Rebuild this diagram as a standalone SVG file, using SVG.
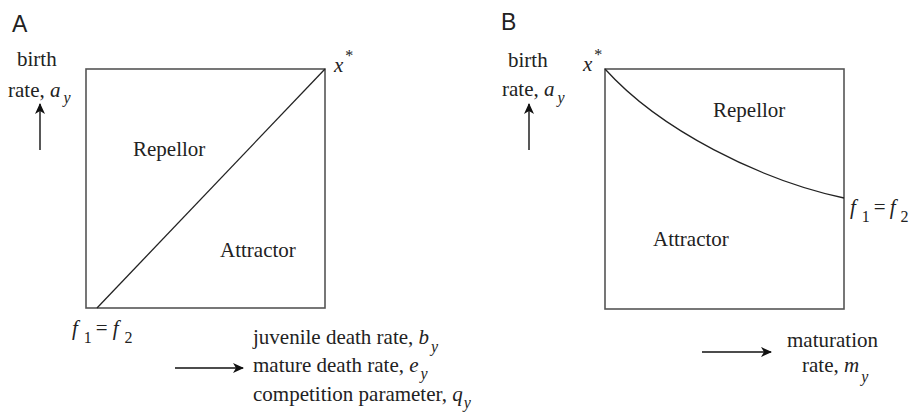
<svg xmlns="http://www.w3.org/2000/svg" width="911" height="417" viewBox="0 0 911 417">
<style>
.box{fill:none;stroke:#555;stroke-width:1.6}
.curve{fill:none;stroke:#222;stroke-width:1.3}
.ar{fill:none;stroke:#111;stroke-width:1.4}
.t{font-family:"Liberation Serif","Times New Roman","DejaVu Serif",serif;font-size:21px;fill:#222}
.i{font-style:italic}
.sb{font-size:16px;font-style:italic}
.sn{font-size:16px;font-style:normal}
.p{font-family:"Liberation Sans",Arial,sans-serif;font-size:23px;fill:#222}
</style>
<defs>
<marker id="ah" markerWidth="12" markerHeight="10" refX="10" refY="5" orient="auto" markerUnits="userSpaceOnUse">
<path d="M0,0 L11,5 L0,10 L3,5 Z" fill="#111"/>
</marker>
</defs>
<g id="panelA">
<text class="p" x="12" y="32">A</text>
<g id="A-box"><rect class="box" x="86" y="69" width="239" height="239"/></g>
<g id="A-ylabel">
<text class="t" x="17" y="66">birth</text>
<text class="t" x="8" y="97">rate, <tspan class="i">a</tspan><tspan class="sb" dx="3" dy="6">y</tspan></text>
</g>
<g id="A-xstar"><text class="t" x="334" y="72"><tspan class="i">x</tspan><tspan class="sn" dx="2" dy="-11">*</tspan></text></g>
<g id="A-repellor"><text class="t" x="133" y="156">Repellor</text></g>
<g id="A-attractor"><text class="t" x="220" y="257">Attractor</text></g>
<g id="A-f1f2"><text class="t" x="72" y="335"><tspan class="i">f</tspan><tspan class="sn" dx="6" dy="8">1</tspan><tspan dx="4" dy="-8">=</tspan><tspan class="i" dx="5">f</tspan><tspan class="sn" dx="6" dy="8">2</tspan></text></g>
<g id="A-xlabel">
<text class="t" x="253" y="344">juvenile death rate, <tspan class="i">b</tspan><tspan class="sb" dx="2" dy="8">y</tspan></text>
<text class="t" x="253" y="372">mature death rate, <tspan class="i">e</tspan><tspan class="sb" dx="2" dy="7">y</tspan></text>
<text class="t" x="253" y="401">competition parameter, <tspan class="i">q</tspan><tspan class="sb" dx="1" dy="7">y</tspan></text>
</g>
</g>
<g id="panelB">
<text class="p" x="501" y="30">B</text>
<g id="B-box"><rect class="box" x="605" y="69" width="239" height="240"/></g>
<g id="B-ylabel">
<text class="t" x="508" y="67">birth</text>
<text class="t" x="502" y="96">rate, <tspan class="i">a</tspan><tspan class="sb" dx="3" dy="7">y</tspan></text>
</g>
<g id="B-xstar"><text class="t" x="583" y="71"><tspan class="i">x</tspan><tspan class="sn" dx="2" dy="-11">*</tspan></text></g>
<g id="B-repellor"><text class="t" x="713" y="117">Repellor</text></g>
<g id="B-attractor"><text class="t" x="653" y="246">Attractor</text></g>
<g id="B-f1f2"><text class="t" x="850" y="214"><tspan class="i">f</tspan><tspan class="sn" dx="6" dy="8">1</tspan><tspan dx="4" dy="-8">=</tspan><tspan class="i" dx="4">f</tspan><tspan class="sn" dx="5" dy="8">2</tspan></text></g>
<g id="B-xlabel">
<text class="t" x="787" y="347">maturation</text>
<text class="t" x="802" y="372">rate, <tspan class="i">m</tspan><tspan class="sb" dx="2" dy="10">y</tspan></text>
</g>
</g>
<g id="connectors">
<line class="curve" x1="97" y1="308" x2="325" y2="69"/>
<path class="curve" d="M605,69 C660,130 760,180 844,198"/>
<line class="ar" x1="40" y1="150" x2="40" y2="104" marker-end="url(#ah)"/>
<line class="ar" x1="529" y1="150" x2="529" y2="104" marker-end="url(#ah)"/>
<line class="ar" x1="175" y1="368" x2="243" y2="368" marker-end="url(#ah)"/>
<line class="ar" x1="702" y1="352" x2="771" y2="352" marker-end="url(#ah)"/>
</g>
</svg>
